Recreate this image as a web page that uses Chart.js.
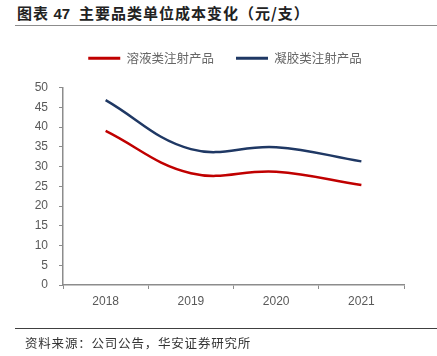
<!DOCTYPE html>
<html>
<head>
<meta charset="utf-8">
<script src="https://cdn.jsdelivr.net/npm/chart.js@4/dist/chart.umd.min.js"></script>
<style>
html,body{margin:0;padding:0;background:#fff;}
#wrap{position:relative;width:437px;height:356px;overflow:hidden;}
#title{position:absolute;left:17px;top:3px;font-family:"Noto Sans CJK SC",sans-serif;font-weight:bold;font-size:15px;color:#222;white-space:nowrap;line-height:20px;letter-spacing:1px;}
#title .num{font-family:"Liberation Sans",Arial,sans-serif;font-weight:bold;letter-spacing:0;}
#tline{position:absolute;left:15px;top:25px;width:422px;height:0;border-top:1.5px solid #8c8c8c;}
#bline{position:absolute;left:15px;top:328px;width:422px;height:0;border-top:1px solid #404040;}
#source{position:absolute;left:25px;top:334px;font-family:"Noto Sans CJK SC",sans-serif;font-size:12.5px;color:#333;white-space:nowrap;line-height:18px;letter-spacing:0.8px;}
canvas{position:absolute;left:0;top:0;}
</style>
</head>
<body>
<div id="wrap">
<div id="title">图表 <span class="num">47</span>&nbsp; 主要品类单位成本变化（元/支）</div>
<div id="tline"></div>
<canvas id="c" width="437" height="356"></canvas>
<div id="bline"></div>
<div id="source">资料来源：公司公告，华安证券研究所</div>
</div>
<script>
const years = ['2018', '2019', '2020', '2021'];
const solutionCost = [39.0, 28.3, 28.7, 25.3];
const gelCost = [46.8, 34.4, 34.9, 31.3];
const seriesNames = ['溶液类注射产品', '凝胶类注射产品'];
const yTicks = [0, 5, 10, 15, 20, 25, 30, 35, 40, 45, 50];

const axisColor = '#8c8c8c';
const tickColor = '#595959';

const legendShift = {
  id: 'legendShift',
  afterLayout(chart) {
    if (chart.legend) { chart.legend.left += 23; chart.legend.right += 23; }
  }
};

new Chart(document.getElementById('c'), {
  type: 'line',
  data: {
    labels: years,
    datasets: [
      {label: seriesNames[0], data: solutionCost, borderColor: '#C00000', backgroundColor: '#C00000', borderWidth: 2.5, pointRadius: 0, tension: 0.4, fill: false},
      {label: seriesNames[1], data: gelCost, borderColor: '#1F3864', backgroundColor: '#1F3864', borderWidth: 2.5, pointRadius: 0, tension: 0.4, fill: false}
    ]
  },
  plugins: [legendShift],
  options: {
    responsive: false,
    animation: false,
    devicePixelRatio: 1,
    layout: {padding: {left: 0, right: 33, top: 30, bottom: 41}},
    plugins: {
      tooltip: {enabled: false},
      title: {display: true, text: ' ', weight: 500, font: {size: 10}, padding: {top: 1, bottom: 0}},
      legend: {
        position: 'top',
        weight: 3000,
        labels: {
          boxWidth: 32,
          boxHeight: 3,
          padding: 22,
          color: '#666',
          font: {family: '"Noto Sans CJK SC", sans-serif', size: 12.5},
          generateLabels(chart) {
            const items = Chart.defaults.plugins.legend.labels.generateLabels(chart);
            return items.map(it => Object.assign(it, {lineWidth: 0, fillStyle: it.strokeStyle}));
          }
        }
      }
    },
    scales: {
      x: {
        offset: true,
        grid: {display: true, drawOnChartArea: false, offset: true, tickLength: 4, color: axisColor, lineWidth: 1},
        border: {display: true, color: axisColor, width: 1.5},
        ticks: {color: tickColor, font: {family: '"Liberation Sans", Arial, sans-serif', size: 12}, padding: 5, maxRotation: 0},
        afterFit(s) { s.height = 30; }
      },
      y: {
        min: 0,
        max: 50,
        afterBuildTicks(s) { s.ticks = yTicks.map(v => ({value: v})); },
        grid: {display: true, drawOnChartArea: false, tickLength: 4, color: axisColor, lineWidth: 1},
        border: {display: true, color: axisColor, width: 1.5},
        ticks: {color: tickColor, font: {family: '"Liberation Sans", Arial, sans-serif', size: 12}, padding: 11},
        afterFit(s) { s.width = 63; }
      }
    }
  }
});
</script>
</body>
</html>
